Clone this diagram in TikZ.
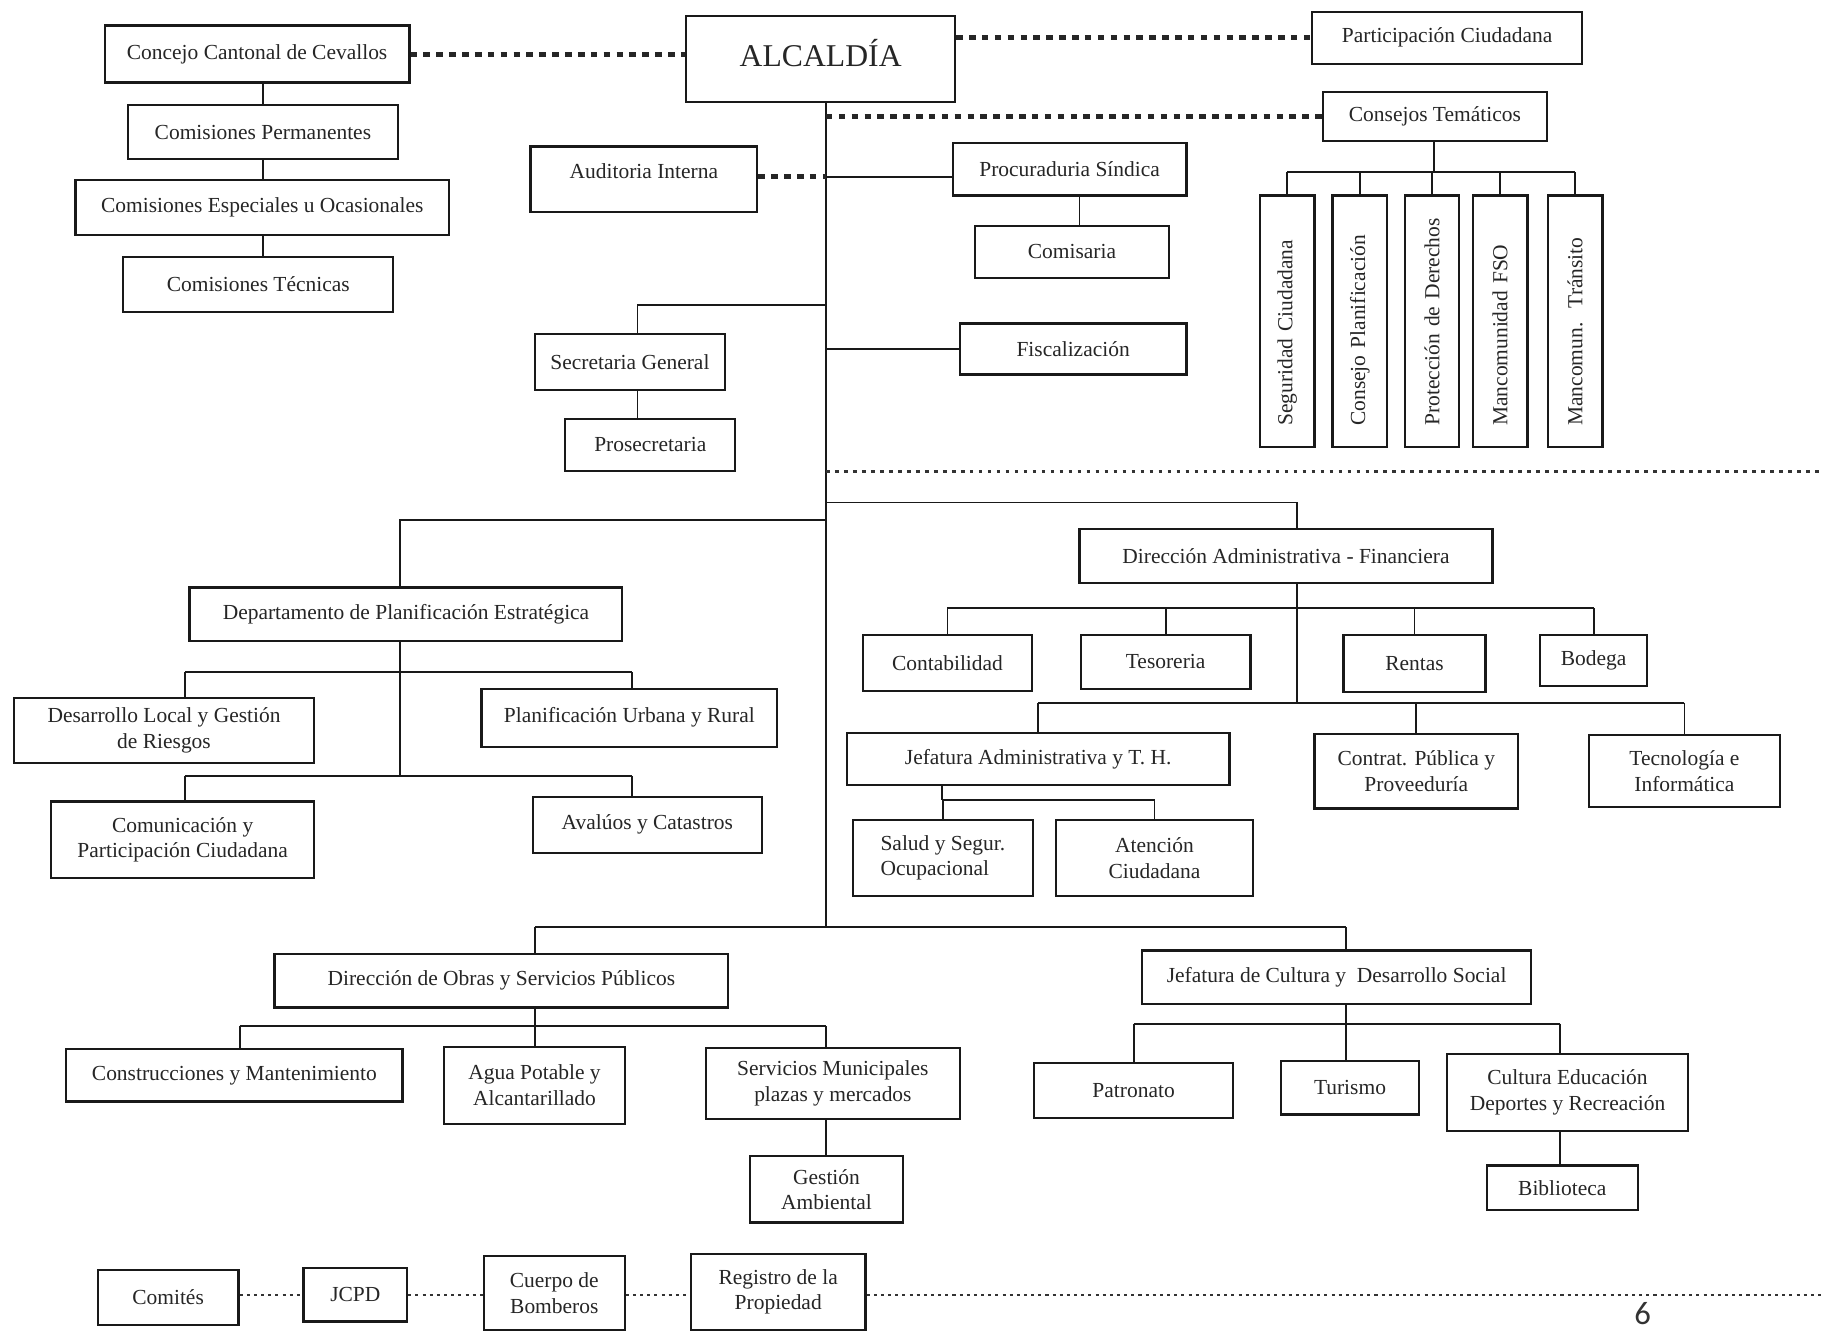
\documentclass[tikz,border=0pt]{standalone}
\usepackage{fontspec}
\setmainfont{Liberation Serif}
\newfontfamily\pagefont{Carlito}
\newcommand\mkbox[7][]{\node[box,#1,minimum width={(#5-#3)*0.02cm},minimum height={(#6-#4)*0.02cm}] (#2) at ({(#3+#5)/2},{(#4+#6)/2}) {#7};}
\begin{document}
\begin{tikzpicture}[x=0.02cm,y=-0.02cm,
  box/.style={draw=black!90,line width=1.1pt,inner sep=1pt,align=center,font=\fontsize{10.5}{12.5}\selectfont,text=black!85},
  vbox/.style={draw=black!90,line width=1.1pt,rotate=90,text width=3.6cm,align=left,inner xsep=0.36cm,inner ysep=1pt,minimum height=0.94cm,font=\fontsize{10.5}{12.5}\selectfont,text=black!85},
  ln/.style={line width=0.9pt,draw=black!90},
  dotA/.style={line width=2.4pt,dash pattern=on 3.2pt off 3.1pt,draw=black!85},
  dotB/.style={line width=1.4pt,dash pattern=on 1.8pt off 2.6pt,draw=black!80},
  dotC/.style={line width=1.2pt,dash pattern=on 1.5pt off 2pt,draw=black!80}]
\fill[white] (0,0) rectangle (1568,1145);
\useasboundingbox (0,0) rectangle (1568,1145);

% ---- top
\mkbox{concejo}{90}{22}{352}{71}{Concejo Cantonal de Cevallos}
\mkbox{cper}{110}{90}{342}{137}{Comisiones Permanentes}
\mkbox{cesp}{65}{155}{386}{202}{Comisiones Especiales u Ocasionales}
\mkbox{ctec}{106}{221}{338}{268}{Comisiones Técnicas}
\mkbox[font=\fontsize{15.5}{18}\selectfont]{alc}{590}{14}{821}{88}{\raisebox{6pt}{ALCALDÍA}}
\mkbox{part}{1128}{10}{1360}{55}{Participación Ciudadana}
\mkbox{cons}{1137}{79}{1330}{121}{Consejos Temáticos}
\node[vbox] (v1) at (1106.5,276) {Seguridad Ciudadana};
\node[vbox] (v2) at (1169,276) {Consejo Planificación};
\node[vbox] (v3) at (1231,276) {Protección de Derechos};
\node[vbox] (v4) at (1289.5,276) {Mancomunidad FSO};
\node[vbox] (v5) at (1354,276) {Mancomun.\ \ Tránsito};
\mkbox{aud}{456}{126}{651}{182}{\raisebox{8pt}{Auditoria Interna}}
\mkbox{proc}{819}{123}{1020}{168}{Procuraduria Síndica}
\mkbox{comis}{838}{194}{1005}{239}{Comisaria}
\mkbox{fisc}{825}{278}{1020}{322}{Fiscalización}
\mkbox{secg}{460}{287}{623}{335}{Secretaria General}
\mkbox{prosec}{486}{360}{632}{405}{Prosecretaria}

% ---- middle
\mkbox{daf}{928}{455}{1283}{501}{Dirección Administrativa - Financiera}
\mkbox{dep}{163}{505}{535}{551}{Departamento de Planificación Estratégica}
\mkbox{desa}{12}{600}{270}{656}{Desarrollo Local y Gestión\\de Riesgos}
\mkbox{planu}{414}{592}{668}{642}{Planificación Urbana y Rural}
\mkbox{comu}{44}{689}{270}{755}{Comunicación y\\Participación Ciudadana}
\mkbox{aval}{458}{685}{655}{733}{Avalúos y Catastros}
\mkbox{conta}{742}{546}{887}{594}{Contabilidad}
\mkbox{teso}{929}{546}{1075}{592}{Tesoreria}
\mkbox{rent}{1155}{546}{1277}{595}{Rentas}
\mkbox{bode}{1324}{546}{1416}{590}{Bodega}
\mkbox{jadm}{728}{630}{1057}{675}{Jefatura Administrativa y T. H.}
\mkbox{contr}{1130}{631}{1305}{695}{Contrat. Pública y\\Proveeduría}
\mkbox{tecn}{1366}{632}{1530}{694}{Tecnología e\\Informática}
\mkbox[align=left]{salud}{733}{705}{888}{770}{Salud y Segur.\\Ocupacional}
\mkbox{aten}{908}{705}{1077}{770}{Atención\\Ciudadana}

% ---- bottom
\mkbox{obras}{236}{820}{626}{866}{Dirección de Obras y Servicios Públicos}
\mkbox{cult}{982}{817}{1316}{863}{Jefatura de Cultura y\ \ Desarrollo Social}
\mkbox{const}{57}{902}{346}{947}{Construcciones y Mantenimiento}
\mkbox{agua}{382}{900}{537}{966}{Agua Potable y\\Alcantarillado}
\mkbox{serv}{607}{901}{825}{962}{Servicios Municipales\\plazas y mercados}
\mkbox{gest}{645}{994}{776}{1051}{Gestión\\Ambiental}
\mkbox{patr}{889}{914}{1060}{961}{Patronato}
\mkbox{turi}{1101}{912}{1220}{958}{Turismo}
\mkbox{cedr}{1244}{906}{1451}{972}{Cultura Educación\\Deportes y Recreación}
\mkbox{bibl}{1278}{1002}{1408}{1040}{Biblioteca}
\mkbox{comi}{84}{1092}{205}{1139}{Comités}
\mkbox{jcpd}{261}{1090}{350}{1136}{JCPD}
\mkbox{cuer}{416}{1080}{537}{1143}{Cuerpo de\\Bomberos}
\mkbox{reg}{594}{1078}{744}{1143}{Registro de la\\Propiedad}
\node[font=\pagefont\fontsize{16}{16}\selectfont,text=black!80,inner sep=0pt] (pg) at (1412,1129) {6};

% ---- coordinates
\coordinate (xm) at (710,0);
\coordinate (j100) at (710,100);
\coordinate (j152) at (710,152);
\coordinate (j262) at (710,262);
\coordinate (j300) at (710,300);
\coordinate (j405) at (710,405);
\coordinate (j432) at (710,432);
\coordinate (j447) at (710,447);
\coordinate (j797) at (710,797);
\coordinate (e405) at (1568,405);
\coordinate (e1113) at (1568,1113);
\coordinate (b1113) at (0,1113);
\coordinate (xcc) at (226,0);
\coordinate (xpc) at (928,0);
\coordinate (xs) at (548,0);
\coordinate (cb) at (1233,148);
\coordinate (xd) at (1115,0);
\coordinate (b523) at (0,523);
\coordinate (b604) at (0,604);
\coordinate (x810) at (810,0);
\coordinate (b688) at (0,688);
\coordinate (xdep) at (344,0);
\coordinate (b578) at (0,578);
\coordinate (b667) at (0,667);
\coordinate (xl) at (159,0);
\coordinate (xr) at (543,0);
\coordinate (xo) at (460,0);
\coordinate (xc) at (1157,0);
\coordinate (xa) at (206,0);
\coordinate (b882) at (0,882);
\coordinate (b880) at (0,880);
\coordinate (xcd) at (1341,0);

% ---- top connectors
\draw[ln] (concejo.south -| xcc) -- (cper.north -| xcc);
\draw[ln] (cper.south -| xcc) -- (cesp.north -| xcc);
\draw[ln] (cesp.south -| xcc) -- (ctec.north -| xcc);
\draw[dotA] (concejo.east) -- (concejo.east -| alc.west);
\draw[dotA] (part.west -| alc.east) -- (part.west);
\draw[ln] (alc.south -| xm) -- (j797);
\draw[dotA] (j100) -- (cons.west);
\draw[dotA] (aud.east |- j152) -- (j152);
\draw[ln] (j152) -- (proc.west |- j152);
\draw[ln] (proc.south -| xpc) -- (comis.north -| xpc);
\draw[ln] (j262) -| (secg.north -| xs);
\draw[ln] (secg.south -| xs) -- (prosec.north -| xs);
\draw[ln] (j300) -- (fisc.west |- j300);
\draw[dotB] (j405) -- (e405);
\draw[ln] (cons.south -| cb) -- (cb);
\draw[ln] (v1.east |- cb) -- (v5.east |- cb);
\foreach \v in {v1,v2,v3,v4,v5} {\draw[ln] (\v.east |- cb) -- (\v.east);}

% ---- administrative branch
\draw[ln] (j432) -| (daf.north -| xd);
\draw[ln] (daf.south -| xd) -- (xd |- b604);
\draw[ln] (conta.north |- b523) -- (bode.north |- b523);
\foreach \v in {conta,teso,rent,bode} {\draw[ln] (\v.north |- b523) -- (\v.north);}
\draw[ln] (jadm.north |- b604) -- (tecn.north |- b604);
\foreach \v in {jadm,contr,tecn} {\draw[ln] (\v.north |- b604) -- (\v.north);}
\draw[ln] (jadm.south -| x810) -- (x810 |- b688);
\draw[ln] (salud.north |- b688) -- (aten.north |- b688);
\foreach \v in {salud,aten} {\draw[ln] (\v.north |- b688) -- (\v.north);}

% ---- planning branch
\draw[ln] (j447) -| (dep.north -| xdep);
\draw[ln] (dep.south -| xdep) -- (xdep |- b667);
\draw[ln] (xl |- b578) -- (xr |- b578);
\draw[ln] (xl |- b578) -- (desa.north -| xl);
\draw[ln] (xr |- b578) -- (planu.north -| xr);
\draw[ln] (xl |- b667) -- (xr |- b667);
\draw[ln] (xl |- b667) -- (comu.north -| xl);
\draw[ln] (xr |- b667) -- (aval.north -| xr);

% ---- works and culture
\draw[ln] (xo |- j797) -- (xc |- j797);
\draw[ln] (xo |- j797) -- (obras.north -| xo);
\draw[ln] (xc |- j797) -- (cult.north -| xc);
\draw[ln] (obras.south -| xo) -- (xo |- b882);
\draw[ln] (xa |- b882) -- (xm |- b882);
\draw[ln] (xa |- b882) -- (const.north -| xa);
\draw[ln] (xo |- b882) -- (agua.north -| xo);
\draw[ln] (xm |- b882) -- (serv.north -| xm);
\draw[ln] (serv.south -| xm) -- (gest.north -| xm);
\draw[ln] (cult.south -| xc) -- (xc |- b880);
\draw[ln] (patr.north |- b880) -- (xcd |- b880);
\draw[ln] (patr.north |- b880) -- (patr.north);
\draw[ln] (xc |- b880) -- (turi.north -| xc);
\draw[ln] (xcd |- b880) -- (cedr.north -| xcd);
\draw[ln] (cedr.south -| xcd) -- (bibl.north -| xcd);

% ---- bottom row
\draw[dotC] (comi.east |- b1113) -- (jcpd.west |- b1113);
\draw[dotC] (jcpd.east |- b1113) -- (cuer.west |- b1113);
\draw[dotC] (cuer.east |- b1113) -- (reg.west |- b1113);
\draw[dotC] (reg.east |- b1113) -- (e1113);
\end{tikzpicture}
\end{document}
